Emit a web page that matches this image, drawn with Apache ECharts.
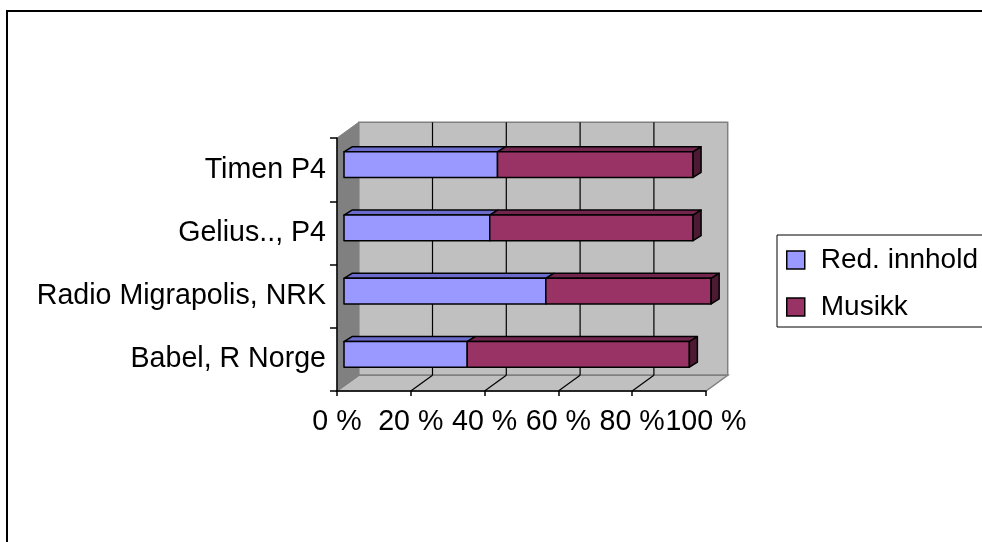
<!DOCTYPE html>
<html>
<head>
<meta charset="utf-8">
<title>Red. innhold / Musikk</title>
<script src="https://cdn.jsdelivr.net/npm/echarts@6/dist/echarts.min.js"></script>
<style>
  html, body { margin: 0; padding: 0; background: #fff; }
  #chart { width: 982px; height: 542px; }
</style>
</head>
<body>
<div id="chart"></div>
<script>
// kategorier nedenfra og opp (slik Excel tegner dem)
const categories = ['Babel, R Norge', 'Radio Migrapolis, NRK', 'Gelius.., P4', 'Timen P4']
const redInnhold = [33.4, 54.7, 39.5, 41.6]
const musikk = [60.2, 44.8, 55.1, 53.0]
const xTicks = [0, 20, 40, 60, 80, 100]

const FONT = '"Liberation Sans", Arial, sans-serif'
// 3D-forskyvning (piksler) for veggene og søylene
const WALL = [21.7, -15.7]
const BAR_POS = [7, -5]
const BAR_DEPTH = [8, -5]

const chart = echarts.init(document.getElementById('chart'), null, { renderer: 'canvas' })

// vegger, gulv og rutenett
const renderWalls = (params, api) => {
  const cs = params.coordSys
  const x0 = cs.x, x1 = cs.x + cs.width
  const y0 = cs.y, y1 = cs.y + cs.height
  const dx = WALL[0], dy = WALL[1]
  const children = [
    { // bakvegg
      type: 'polygon',
      shape: { points: [[x0 + dx, y0 + dy], [x1 + dx, y0 + dy], [x1 + dx, y1 + dy], [x0 + dx, y1 + dy]] },
      style: { fill: '#c0c0c0', stroke: '#808080', lineWidth: 1.5 }
    },
    { // gulv
      type: 'polygon',
      shape: { points: [[x0, y1], [x1, y1], [x1 + dx, y1 + dy], [x0 + dx, y1 + dy]] },
      style: { fill: '#c0c0c0', stroke: '#808080', lineWidth: 1.5 }
    },
    { // sidevegg
      type: 'polygon',
      shape: { points: [[x0, y0], [x0 + dx, y0 + dy], [x0 + dx, y1 + dy], [x0, y1]] },
      style: { fill: '#808080', stroke: '#808080', lineWidth: 1 }
    }
  ]
  xTicks.slice(1, -1).forEach(v => {
    const px = api.coord([v, 0])[0]
    children.push({
      type: 'line',
      shape: { x1: px + dx, y1: y0 + dy, x2: px + dx, y2: y1 + dy },
      style: { stroke: '#000', lineWidth: 1.2 }
    })
    children.push({
      type: 'line',
      shape: { x1: px, y1: y1, x2: px + dx, y2: y1 + dy },
      style: { stroke: '#000', lineWidth: 1.2 }
    })
  })
  return { type: 'group', children }
}

// en 3D-søyle (front, topp og evt. høyre side)
const makeBarRenderer = (colors, withSide) => (params, api) => {
  const base = api.value(2)
  const val = api.value(0)
  const idx = api.value(1)
  const s = api.coord([base, idx])
  const e = api.coord([base + val, idx])
  const h = api.size([0, 1])[1] * 0.405
  const xa = s[0] + BAR_POS[0]
  const xb = e[0] + BAR_POS[0]
  const ya = s[1] + BAR_POS[1] - h / 2
  const dx = BAR_DEPTH[0], dy = BAR_DEPTH[1]
  const edge = { stroke: '#000', lineWidth: 1.5, lineJoin: 'round' }
  const children = [
    {
      type: 'polygon',
      shape: { points: [[xa, ya], [xa + dx, ya + dy], [xb + dx, ya + dy], [xb, ya]] },
      style: Object.assign({ fill: colors.top }, edge)
    },
    {
      type: 'rect',
      shape: { x: xa, y: ya, width: xb - xa, height: h },
      style: Object.assign({ fill: colors.front }, edge)
    }
  ]
  if (withSide) {
    children.push({
      type: 'polygon',
      shape: { points: [[xb, ya], [xb + dx, ya + dy], [xb + dx, ya + dy + h], [xb, ya + h]] },
      style: Object.assign({ fill: colors.side }, edge)
    })
  }
  return { type: 'group', children }
}

const blue = { front: '#9999ff', top: '#6b6bcc', side: '#5252a0' }
const plum = { front: '#993366', top: '#73264d', side: '#4d1a33' }

const blueData = categories.map((c, i) => [redInnhold[i], i, 0])
const plumData = categories.map((c, i) => [musikk[i], i, redInnhold[i]])

const option = {
  animation: false,
  backgroundColor: '#fff',
  textStyle: { fontFamily: FONT },
  graphic: [
    {
      type: 'rect', z: -10,
      shape: { x: 7, y: 11, width: 1000, height: 600 },
      style: { fill: '#fff', stroke: '#000', lineWidth: 2 }
    },
    {
      type: 'rect', z: 5,
      shape: { x: 777, y: 235, width: 220, height: 92 },
      style: { fill: '#fff', stroke: '#000', lineWidth: 1 }
    }
  ],
  legend: {
    orient: 'vertical',
    left: 786,
    top: 246,
    padding: 0,
    itemGap: 19,
    itemWidth: 18,
    itemHeight: 18,
    z: 10,
    selectedMode: false,
    textStyle: { fontFamily: FONT, fontSize: 28, color: '#000', padding: [0, 0, 0, 11] },
    data: [
      { name: 'Red. innhold', icon: 'rect', itemStyle: { color: blue.front, borderColor: '#000', borderWidth: 1.5 } },
      { name: 'Musikk', icon: 'rect', itemStyle: { color: plum.front, borderColor: '#000', borderWidth: 1.5 } }
    ]
  },
  grid: {
    left: 337,
    top: 138,
    width: 369,
    height: 253,
    containLabel: false
  },
  xAxis: {
    type: 'value',
    min: 0,
    max: 100,
    interval: 20,
    z: 5,
    axisLine: { show: true, lineStyle: { color: '#000', width: 1.5 } },
    axisTick: { show: true, length: 5, lineStyle: { color: '#000', width: 1.5 } },
    splitLine: { show: false },
    axisLabel: {
      formatter: '{value} %',
      fontFamily: FONT,
      fontSize: 28.6,
      color: '#000',
      margin: 17
    }
  },
  yAxis: {
    type: 'category',
    data: categories,
    z: 5,
    axisLine: { show: true, lineStyle: { color: '#000', width: 1.5 } },
    axisTick: { show: true, length: 7, lineStyle: { color: '#000', width: 1.5 } },
    axisLabel: {
      fontFamily: FONT,
      fontSize: 28.6,
      color: '#000',
      margin: 11
    }
  },
  series: [
    {
      type: 'custom',
      name: 'walls',
      z: 1,
      silent: true,
      renderItem: renderWalls,
      data: [[0, 0]],
      encode: { x: 0, y: 1 }
    },
    {
      type: 'custom',
      name: 'Red. innhold',
      z: 2,
      itemStyle: { color: blue.front },
      renderItem: makeBarRenderer(blue, false),
      data: blueData,
      encode: { x: 0, y: 1 }
    },
    {
      type: 'custom',
      name: 'Musikk',
      z: 3,
      itemStyle: { color: plum.front },
      renderItem: makeBarRenderer(plum, true),
      data: plumData,
      encode: { x: 0, y: 1 }
    }
  ]
}

chart.setOption(option)
</script>
</body>
</html>
